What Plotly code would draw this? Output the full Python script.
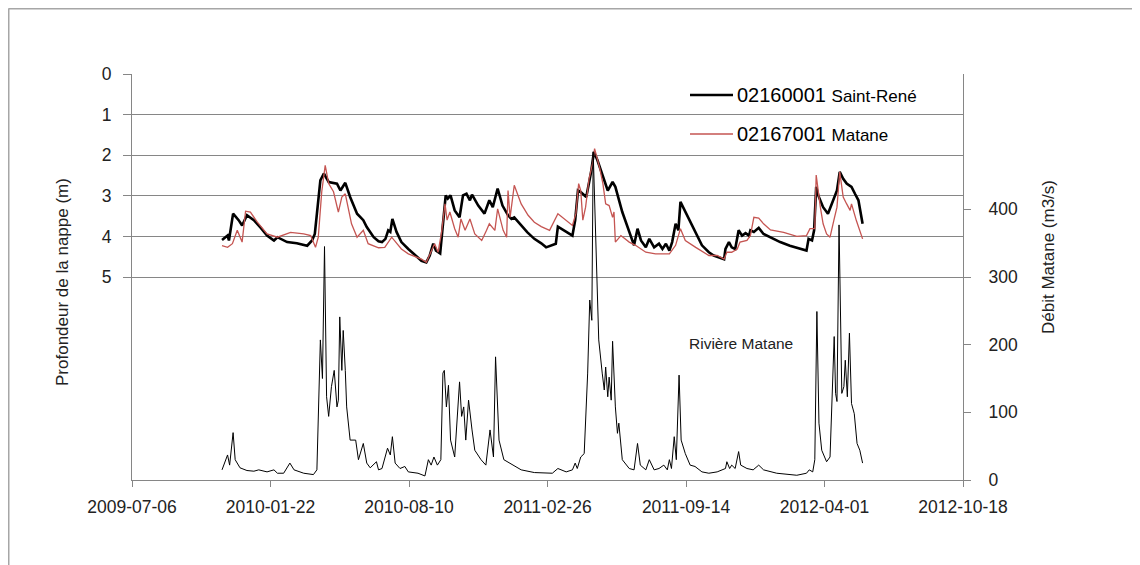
import plotly.graph_objects as go

# ---------------- data ----------------
x_tick_labels = ["2009-07-06", "2010-01-22", "2010-08-10", "2011-02-26",
                 "2011-09-14", "2012-04-01", "2012-10-18"]
depth_ticks = [0, 1, 2, 3, 4, 5]
flow_ticks = [0, 100, 200, 300, 400]

st_rene_dates = [
    "2009-11-13", "2009-11-21", "2009-11-23", "2009-11-29", "2009-12-07", "2009-12-12",
    "2009-12-19", "2009-12-29", "2010-01-08", "2010-01-17", "2010-01-27", "2010-02-01",
    "2010-02-15", "2010-03-01", "2010-03-16", "2010-03-23", "2010-03-27", "2010-04-04",
    "2010-04-09", "2010-04-16", "2010-04-28", "2010-05-03", "2010-05-10", "2010-05-17",
    "2010-05-27", "2010-06-05", "2010-06-10", "2010-06-20", "2010-06-27", "2010-07-02",
    "2010-07-07", "2010-07-11", "2010-07-14", "2010-07-17", "2010-07-23", "2010-07-30",
    "2010-08-09", "2010-08-19", "2010-08-28", "2010-09-04", "2010-09-09", "2010-09-14",
    "2010-09-18", "2010-09-24", "2010-09-28", "2010-10-02", "2010-10-05", "2010-10-09",
    "2010-10-15", "2010-10-22", "2010-10-27", "2010-11-01", "2010-11-06", "2010-11-09",
    "2010-11-18", "2010-11-27", "2010-12-04", "2010-12-09", "2010-12-16", "2010-12-23",
    "2010-12-31", "2011-01-05", "2011-01-09", "2011-01-19", "2011-01-28", "2011-02-07",
    "2011-02-17", "2011-02-24", "2011-03-10", "2011-03-13", "2011-03-22", "2011-04-03",
    "2011-04-07", "2011-04-11", "2011-04-15", "2011-04-23", "2011-04-30", "2011-05-04",
    "2011-05-09", "2011-05-17", "2011-05-24", "2011-05-31", "2011-06-04", "2011-06-14",
    "2011-06-24", "2011-07-01", "2011-07-06", "2011-07-11", "2011-07-18", "2011-07-23",
    "2011-07-30", "2011-08-06", "2011-08-11", "2011-08-16", "2011-08-21", "2011-08-25",
    "2011-08-30", "2011-09-03", "2011-09-06", "2011-09-11", "2011-09-18", "2011-09-27",
    "2011-10-07", "2011-10-17", "2011-10-24", "2011-11-08", "2011-11-10", "2011-11-15",
    "2011-11-19", "2011-11-24", "2011-11-29", "2011-12-04", "2011-12-09", "2011-12-14",
    "2011-12-16", "2011-12-21", "2011-12-28", "2012-01-04", "2012-01-14", "2012-01-28",
    "2012-02-11", "2012-02-26", "2012-03-06", "2012-03-09", "2012-03-14", "2012-03-17",
    "2012-03-20", "2012-03-23", "2012-03-30", "2012-04-06", "2012-04-14", "2012-04-19",
    "2012-04-23", "2012-04-28", "2012-05-03", "2012-05-10", "2012-05-15", "2012-05-20",
    "2012-05-26"]
st_rene_depth = [
    4.09, 3.98, 4.10, 3.44, 3.60, 3.73,
    3.48, 3.60, 3.79, 3.98, 4.10, 4.02,
    4.14, 4.17, 4.23, 4.10, 3.94, 2.62,
    2.45, 2.66, 2.70, 2.87, 2.68, 3.03,
    3.44, 3.60, 3.77, 4.02, 4.12, 4.14,
    4.06, 3.85, 3.89, 3.57, 3.89, 4.14,
    4.31, 4.47, 4.60, 4.64, 4.47, 4.18,
    4.35, 4.42, 3.77, 2.99, 3.07, 2.99,
    3.36, 3.53, 2.99, 2.95, 3.11, 2.97,
    3.24, 3.44, 3.11, 3.28, 2.82, 3.24,
    3.48, 3.57, 3.53, 3.73, 3.90, 4.06,
    4.17, 4.27, 4.18, 3.76, 3.85, 3.98,
    3.60, 2.87, 2.91, 3.03, 2.41, 1.92,
    2.12, 2.54, 2.87, 2.66, 2.78, 3.40,
    3.89, 4.22, 3.81, 4.10, 4.27, 4.06,
    4.27, 4.18, 4.31, 4.18, 4.35, 4.14,
    3.69, 3.85, 3.15, 3.32, 3.57, 3.89,
    4.22, 4.39, 4.47, 4.56, 4.31, 4.14,
    4.27, 4.31, 3.85, 3.98, 3.92, 3.98,
    3.85, 3.89, 3.79, 3.94, 4.02, 4.14,
    4.23, 4.31, 4.35, 4.06, 4.10, 3.85,
    2.78, 2.99, 3.28, 3.44, 3.11, 2.87,
    2.41, 2.58, 2.70, 2.78, 2.95, 3.11,
    3.69]

matane_dates = [
    "2009-11-13", "2009-11-21", "2009-11-28", "2009-12-05", "2009-12-12", "2009-12-17",
    "2009-12-24", "2010-01-03", "2010-01-17", "2010-02-01", "2010-02-20", "2010-03-11",
    "2010-03-21", "2010-03-28", "2010-04-01", "2010-04-06", "2010-04-11", "2010-04-16",
    "2010-04-23", "2010-04-30", "2010-05-05", "2010-05-10", "2010-05-19", "2010-05-27",
    "2010-06-05", "2010-06-12", "2010-06-27", "2010-07-06", "2010-07-16", "2010-07-20",
    "2010-07-30", "2010-08-09", "2010-08-28", "2010-09-04", "2010-09-11", "2010-09-16",
    "2010-09-21", "2010-09-26", "2010-10-01", "2010-10-04", "2010-10-08", "2010-10-15",
    "2010-10-20", "2010-10-24", "2010-10-30", "2010-11-06", "2010-11-13", "2010-11-23",
    "2010-11-30", "2010-12-04", "2010-12-12", "2010-12-16", "2010-12-24", "2010-12-29",
    "2010-12-31", "2011-01-03", "2011-01-09", "2011-01-19", "2011-01-29", "2011-02-07",
    "2011-02-17", "2011-03-01", "2011-03-13", "2011-03-20", "2011-04-03", "2011-04-08",
    "2011-04-12", "2011-04-15", "2011-04-18", "2011-04-22", "2011-04-27", "2011-05-02",
    "2011-05-05", "2011-05-12", "2011-05-17", "2011-05-21", "2011-05-26", "2011-05-31",
    "2011-06-02", "2011-06-04", "2011-06-12", "2011-06-24", "2011-07-03", "2011-07-18",
    "2011-08-01", "2011-08-21", "2011-08-30", "2011-09-06", "2011-09-13", "2011-09-28",
    "2011-10-17", "2011-10-29", "2011-11-08", "2011-11-12", "2011-11-19", "2011-11-27",
    "2011-12-01", "2011-12-11", "2011-12-16", "2011-12-21", "2011-12-28", "2012-01-04",
    "2012-01-14", "2012-02-02", "2012-02-21", "2012-03-06", "2012-03-11", "2012-03-18",
    "2012-03-20", "2012-03-26", "2012-03-30", "2012-04-04", "2012-04-09", "2012-04-15",
    "2012-04-19", "2012-04-23", "2012-04-28", "2012-05-03", "2012-05-08", "2012-05-10",
    "2012-05-17", "2012-05-26"]
matane_depth = [
    4.23, 4.27, 4.18, 3.85, 4.14, 3.38,
    3.40, 3.65, 3.94, 4.02, 3.90, 3.94,
    3.98, 4.27, 4.02, 2.90, 2.25, 2.70,
    2.90, 3.40, 3.03, 2.95, 3.69, 4.02,
    3.85, 4.18, 4.28, 4.27, 4.02, 4.10,
    4.31, 4.43, 4.56, 4.64, 4.35, 4.18,
    4.39, 3.90, 3.20, 3.60, 3.40, 3.81,
    4.02, 3.57, 3.85, 3.57, 3.94, 4.10,
    3.85, 3.69, 3.85, 3.32, 3.85, 4.02,
    2.87, 3.53, 2.74, 3.20, 3.48, 3.65,
    3.76, 3.85, 3.44, 3.53, 3.73, 3.44,
    2.70, 2.87, 3.60, 3.28, 2.58, 2.21,
    1.84, 2.29, 2.70, 3.20, 3.24, 3.53,
    3.40, 4.14, 3.98, 4.14, 4.22, 4.39,
    4.43, 4.43, 4.22, 3.81, 4.10, 4.27,
    4.47, 4.47, 4.56, 4.39, 4.39, 4.31,
    4.14, 4.10, 3.98, 3.53, 3.55, 3.69,
    3.84, 3.90, 4.00, 3.98, 3.81, 3.81,
    2.49, 3.28, 3.69, 3.94, 4.02, 3.57,
    3.28, 2.41, 3.03, 3.20, 3.36, 3.20,
    3.61, 4.06]

flow_dates = [
    "2009-11-13", "2009-11-21", "2009-11-24", "2009-11-29", "2009-12-02", "2009-12-09",
    "2009-12-19", "2009-12-29", "2010-01-05", "2010-01-17", "2010-01-27", "2010-02-01",
    "2010-02-10", "2010-02-19", "2010-02-25", "2010-03-11", "2010-03-25", "2010-03-30",
    "2010-04-04", "2010-04-07", "2010-04-10", "2010-04-13", "2010-04-16", "2010-04-20",
    "2010-04-24", "2010-04-28", "2010-04-30", "2010-05-02", "2010-05-05", "2010-05-07",
    "2010-05-10", "2010-05-12", "2010-05-17", "2010-05-25", "2010-05-29", "2010-06-05",
    "2010-06-10", "2010-06-15", "2010-06-24", "2010-06-27", "2010-07-02", "2010-07-06",
    "2010-07-10", "2010-07-14", "2010-07-17", "2010-07-21", "2010-07-28", "2010-08-04",
    "2010-08-09", "2010-08-23", "2010-09-02", "2010-09-07", "2010-09-11", "2010-09-15",
    "2010-09-20", "2010-09-25", "2010-09-28", "2010-09-30", "2010-10-03", "2010-10-06",
    "2010-10-09", "2010-10-15", "2010-10-22", "2010-10-25", "2010-10-28", "2010-10-31",
    "2010-11-04", "2010-11-09", "2010-11-13", "2010-11-22", "2010-11-29", "2010-12-05",
    "2010-12-10", "2010-12-13", "2010-12-18", "2010-12-25", "2011-01-02", "2011-01-19",
    "2011-02-07", "2011-02-21", "2011-03-05", "2011-03-13", "2011-03-25", "2011-04-03",
    "2011-04-07", "2011-04-10", "2011-04-15", "2011-04-20", "2011-04-25", "2011-04-28",
    "2011-05-01", "2011-05-03", "2011-05-06", "2011-05-09", "2011-05-11", "2011-05-16",
    "2011-05-19", "2011-05-21", "2011-05-24", "2011-05-26", "2011-05-29", "2011-05-31",
    "2011-06-04", "2011-06-07", "2011-06-09", "2011-06-14", "2011-06-24", "2011-07-01",
    "2011-07-06", "2011-07-10", "2011-07-18", "2011-07-23", "2011-07-30", "2011-08-06",
    "2011-08-13", "2011-08-18", "2011-08-21", "2011-08-24", "2011-08-28", "2011-08-31",
    "2011-09-04", "2011-09-07", "2011-09-13", "2011-09-20", "2011-09-27", "2011-10-07",
    "2011-10-17", "2011-10-29", "2011-11-10", "2011-11-12", "2011-11-16", "2011-11-19",
    "2011-11-24", "2011-11-29", "2011-12-02", "2011-12-11", "2011-12-20", "2011-12-28",
    "2012-01-04", "2012-01-23", "2012-02-21", "2012-03-06", "2012-03-10", "2012-03-15",
    "2012-03-18", "2012-03-21", "2012-03-24", "2012-03-28", "2012-04-04", "2012-04-09",
    "2012-04-11", "2012-04-15", "2012-04-17", "2012-04-19", "2012-04-22", "2012-04-24",
    "2012-04-26", "2012-04-29", "2012-05-01", "2012-05-04", "2012-05-07", "2012-05-10",
    "2012-05-14", "2012-05-18", "2012-05-22", "2012-05-26"]
flow_values = [
    15, 37, 22, 70, 30, 18,
    14, 13, 15, 12, 15, 10,
    10, 25, 15, 10, 8, 15,
    207, 150, 345, 123, 94, 138,
    162, 108, 118, 241, 162, 221,
    162, 108, 59, 59, 30, 54,
    25, 18, 27, 15, 17, 34,
    47, 37, 64, 25, 17, 20,
    12, 10, 6, 30, 22, 34,
    22, 30, 158, 162, 108, 140,
    59, 34, 145, 94, 108, 59,
    118, 74, 44, 30, 22, 74,
    34, 182, 59, 30, 25, 15,
    11, 10, 10, 17, 12, 15,
    25, 17, 34, 39, 158, 266,
    236, 485, 379, 280, 207, 158,
    133, 167, 123, 152, 118, 205,
    108, 69, 84, 30, 17, 15,
    54, 22, 15, 30, 15, 17,
    22, 15, 30, 17, 64, 30,
    155, 59, 39, 22, 20, 12,
    10, 12, 17, 27, 17, 22,
    17, 42, 22, 17, 15, 22,
    15, 10, 7, 10, 15, 12,
    30, 249, 84, 44, 27, 34,
    94, 212, 128, 116, 377, 246,
    128, 138, 177, 123, 217, 113,
    98, 54, 44, 25]

legend_codes = ["02160001", "02167001"]
legend_names = ["Saint-René", "Matane"]

# ---------------- styling ----------------
FONT = "Liberation Sans, Arial, sans-serif"
GRAY = "#868686"
TXT = "#222222"
BLACK = "#000000"
RED = "#C55552"
TICK_SIZE = 17.5

fig = go.Figure()

fig.add_trace(go.Scatter(
    x=flow_dates, y=flow_values, yaxis="y2", mode="lines",
    line=dict(color=BLACK, width=1), name="Rivière Matane", showlegend=False))

fig.add_trace(go.Scatter(
    x=st_rene_dates, y=st_rene_depth, mode="lines",
    line=dict(color=BLACK, width=2.6), name=legend_codes[0] + " " + legend_names[0],
    showlegend=False))

fig.add_trace(go.Scatter(
    x=matane_dates, y=matane_depth, mode="lines",
    line=dict(color=RED, width=1.3), name=legend_codes[1] + " " + legend_names[1],
    showlegend=False))

# page pixel layout of the plot area (the page body adds an 8px offset)
OFF = 8
PL, PR, PT, PB = 132, 963, 74, 480
W, H = 1140, 565

fig.update_layout(
    width=W, height=H,
    margin=dict(l=PL - OFF, r=W - (PR - OFF), t=PT - OFF, b=H - (PB - OFF)),
    paper_bgcolor="white", plot_bgcolor="white",
    font=dict(family=FONT, size=16, color=TXT),
    showlegend=False,
    xaxis=dict(
        type="date", range=[x_tick_labels[0], x_tick_labels[-1]],
        tickmode="array", tickvals=x_tick_labels, ticktext=x_tick_labels,
        ticks="outside", ticklen=6, tickcolor=GRAY, tickwidth=1,
        showline=True, linecolor=GRAY, linewidth=1,
        showgrid=False, zeroline=False,
        tickfont=dict(family=FONT, size=TICK_SIZE, color=TXT),
        ticklabelstandoff=5,
    ),
    yaxis=dict(
        range=[10, 0], tickmode="array", tickvals=depth_ticks,
        ticks="outside", ticklen=8, tickcolor=GRAY,
        showline=True, linecolor=GRAY, linewidth=1,
        showgrid=True, gridcolor=GRAY, gridwidth=1, zeroline=False,
        tickfont=dict(family=FONT, size=TICK_SIZE, color=TXT),
        ticklabelstandoff=8,
    ),
    yaxis2=dict(
        overlaying="y", side="right", range=[0, 600],
        tickmode="array", tickvals=flow_ticks,
        ticks="outside", ticklen=7, tickcolor=GRAY,
        showline=True, linecolor=GRAY, linewidth=1,
        showgrid=False, zeroline=False,
        tickfont=dict(family=FONT, size=TICK_SIZE, color=TXT),
        ticklabelstandoff=14,
    ),
)

def px(xp):
    return (xp - PL) / (PR - PL)
def py(yp):
    return (PB - yp) / (PB - PT)

annotations = [
    dict(text="Profondeur de la nappe (m)", x=px(62), y=py(282), xref="paper", yref="paper",
         textangle=-90, showarrow=False, font=dict(family=FONT, size=17, color=TXT),
         xanchor="center", yanchor="middle"),
    dict(text="Débit Matane (m3/s)", x=px(1049), y=py(257), xref="paper", yref="paper",
         textangle=-90, showarrow=False, font=dict(family=FONT, size=17, color=TXT),
         xanchor="center", yanchor="middle"),
    dict(text="Rivière Matane", x=px(687), y=py(343), xref="paper", yref="paper",
         showarrow=False, font=dict(family=FONT, size=15.5, color=TXT),
         xanchor="left", yanchor="middle"),
]
shapes = [
    # outer chart frame (top and left edges visible)
    dict(type="line", xref="paper", yref="paper", x0=px(8.5), x1=px(1150), y0=py(8.5), y1=py(8.5),
         line=dict(color="#A6A6A6", width=2)),
    dict(type="line", xref="paper", yref="paper", x0=px(8.5), x1=px(8.5), y0=py(8.5), y1=py(580),
         line=dict(color="#A6A6A6", width=2)),
]

legend_rows = [(95, BLACK, 2.6), (134, RED, 1.6)]
for (yrow, col, w), code, name in zip(legend_rows, legend_codes, legend_names):
    shapes.append(dict(type="line", xref="paper", yref="paper",
                       x0=px(690), x1=px(733), y0=py(yrow), y1=py(yrow),
                       line=dict(color=col, width=w)))
    annotations.append(dict(
        text=code + " <span style='font-size:17px'>" + name + "</span>",
        x=px(735), y=py(yrow), xref="paper", yref="paper", showarrow=False,
        xanchor="left", yanchor="middle", font=dict(family=FONT, size=20, color=BLACK)))

fig.update_layout(annotations=annotations, shapes=shapes)

fig.write_html("out.html")
